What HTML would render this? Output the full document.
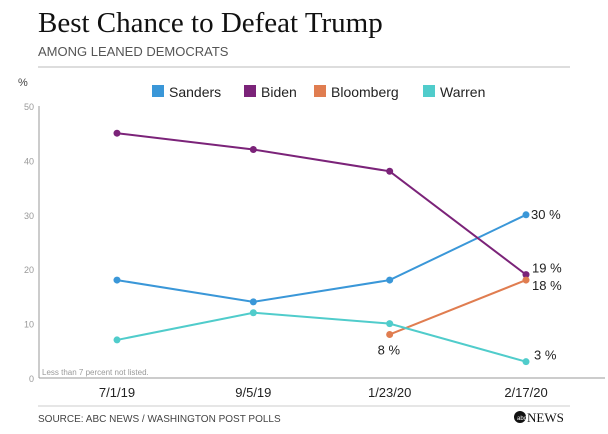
<!DOCTYPE html>
<html><head><meta charset="utf-8"><style>
body{margin:0;background:#fff;width:608px;height:429px;overflow:hidden;font-family:"Liberation Sans",sans-serif}
</style></head><body>
<svg width="608" height="429" xmlns="http://www.w3.org/2000/svg">
<text x="38" y="32" font-family="Liberation Serif" font-size="29" fill="#111">Best Chance to Defeat Trump</text>
<text x="38" y="56" font-size="13" fill="#555">AMONG LEANED DEMOCRATS</text>
<line x1="38" y1="67" x2="570" y2="67" stroke="#bbb"/>
<text x="18" y="86" font-size="11" fill="#444">%</text>
<g id="legend"></g>
<g id="axes"></g>
<g id="series"></g>
<text x="42" y="375" font-size="8" fill="#999">Less than 7 percent not listed.</text>
<line x1="38" y1="406" x2="570" y2="406" stroke="#ccc"/>
<text x="38" y="422" font-size="10" fill="#444">SOURCE: ABC NEWS / WASHINGTON POST POLLS</text>
<circle cx="520" cy="417" r="6" fill="#111"/>
<text x="517" y="420" font-size="6" fill="#fff">abc</text>
<text x="527" y="422" font-family="Liberation Serif" font-size="13" fill="#111">NEWS</text>
</svg>
<script>
const categories=["7/1/19","9/5/19","1/23/20","2/17/20"];
const yTicks=[0,10,20,30,40,50];
const seriesNames=["Sanders","Biden","Bloomberg","Warren"];
const seriesColors=["#3a97d8","#7b2379","#e07d50","#50cccb"];
const sanders=[18,14,18,30];
const biden=[45,42,38,19];
const bloomberg=[null,null,8,18];
const warren=[7,12,10,3];
const labels=[{s:0,i:3,t:"30 %",dx:5,dy:0},{s:1,i:3,t:"19 %",dx:6,dy:-6},{s:2,i:3,t:"18 %",dx:6,dy:6},{s:2,i:2,t:"8 %",dx:-12,dy:16},{s:3,i:3,t:"3 %",dx:8,dy:-6}];
const NS="http://www.w3.org/2000/svg";
function x(i){return 117+i*(526-117)/3;}
function y(v){return 378-v*5.44;}
function mk(t,a,p){const e=document.createElementNS(NS,t);for(const k in a)e.setAttribute(k,a[k]);p.appendChild(e);return e;}
const ax=document.getElementById('axes');
const yl=mk('line',{x1:39,y1:y(50),x2:39,y2:378,stroke:'#999'},ax);


const xl=mk('line',{x1:39,y1:378,x2:605,y2:378,stroke:'#999'},ax);


yTicks.forEach(v=>{const t=mk('text',{x:34,y:y(v)+4,'font-size':9,fill:'#999','text-anchor':'end'},ax);t.textContent=v;

});
categories.forEach((c,i)=>{const t=mk('text',{x:x(i),y:397,'font-size':13,fill:'#222','text-anchor':'middle'},ax);t.textContent=c;

});
const data=[sanders,biden,bloomberg,warren];
const sg=document.getElementById('series');
data.forEach((d,s)=>{let pts=[];d.forEach((v,i)=>{if(v!=null)pts.push(x(i)+','+y(v));});
const pl=mk('polyline',{points:pts.join(' '),fill:'none',stroke:seriesColors[s],'stroke-width':2},sg);


d.forEach((v,i)=>{if(v==null)return;const c=mk('circle',{cx:x(i),cy:y(v),r:3.5,fill:seriesColors[s]},sg);

});});
labels.forEach(l=>{const v=data[l.s][l.i];const t=mk('text',{x:x(l.i)+l.dx,y:y(v)+l.dy+4,'font-size':13,fill:'#222'},sg);t.textContent=l.t;

});
const lg=document.getElementById('legend');const lx=[152,244,314,423];
seriesNames.forEach((n,s)=>{const r=mk('rect',{x:lx[s],y:85,width:12,height:12,fill:seriesColors[s]},lg);


const t=mk('text',{x:lx[s]+17,y:97,'font-size':14,fill:'#222'},lg);t.textContent=n;

});
</script>
</body></html>
